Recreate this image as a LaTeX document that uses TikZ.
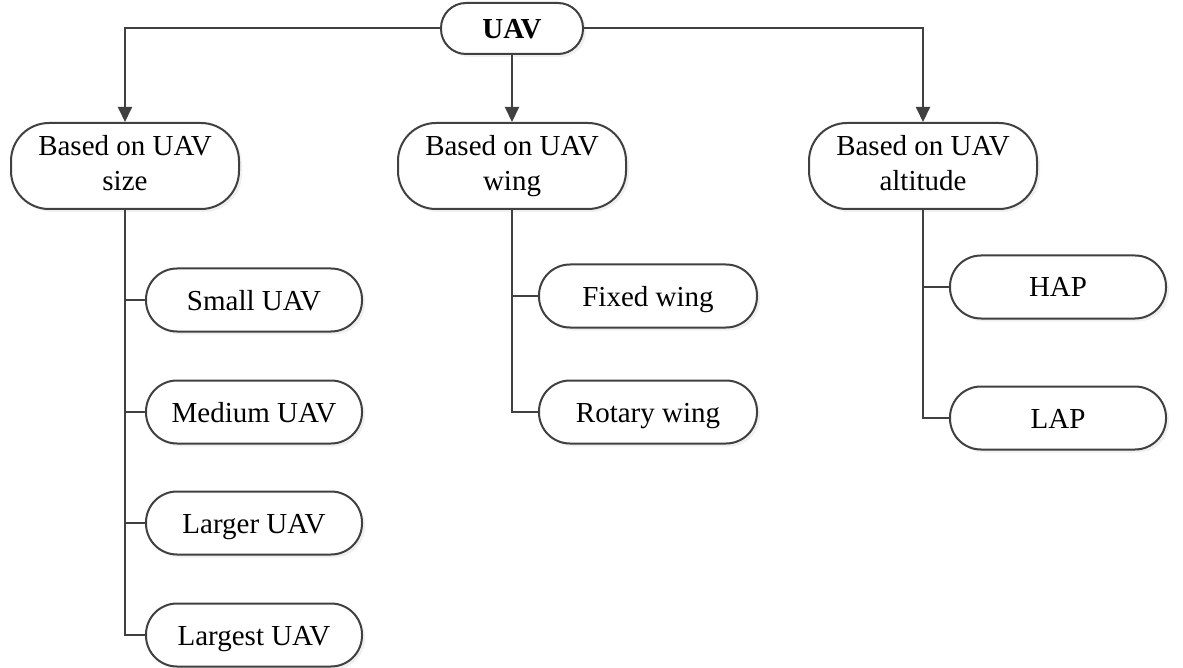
\documentclass[tikz,border=0pt]{standalone}
\usepackage{fontspec}
\setmainfont{Liberation Serif}
\usepackage{tikz}
\usetikzlibrary{arrows.meta,positioning,shadows}
\definecolor{linegray}{HTML}{404040}

\begin{document}
\begin{tikzpicture}[x=1pt,y=-1pt,
  box/.style={draw=linegray,line width=2pt,fill=white,rounded corners=31pt,align=center,
    font=\fontsize{29}{35}\selectfont,inner sep=0pt,text height=26pt,text depth=6pt,
    drop shadow={opacity=0.12,shadow xshift=3pt,shadow yshift=-3pt}},
  topbox/.style={box,minimum width=228pt,minimum height=86pt,rounded corners=38pt,
    text height=,text depth=,execute at end node={\vphantom{g}}},
  leafbox/.style={box,minimum width=216pt,minimum height=63pt},
  link/.style={draw=linegray,line width=2pt},
  arrow/.style={link,-{Triangle[width=14pt,length=15pt]}}]
\useasboundingbox (0,0) rectangle (1183,668);

\node[box,minimum width=142pt,minimum height=51pt,rounded corners=25pt,
  font=\fontsize{29}{35}\selectfont\bfseries] (uav) at (512,28.5) {UAV};

\node[topbox] (size) at (125,166) {Based on UAV\\size};
\node[topbox] (wing) at (512,166) {Based on UAV\\wing};
\node[topbox] (alt) at (923,166) {Based on UAV\\altitude};

\node[leafbox] (small) at (254,300) {Small UAV};
\node[leafbox] (medium) at (254,412) {Medium UAV};
\node[leafbox] (larger) at (254,523) {Larger UAV};
\node[leafbox] (largest) at (254,635) {Largest UAV};

\node[leafbox,minimum width=218pt] (fixed) at (648,296) {Fixed wing};
\node[leafbox,minimum width=218pt] (rotary) at (648,412) {Rotary wing};

\node[leafbox] (hap) at (1058,287) {HAP};
\node[leafbox] (lap) at (1058,418) {LAP};

\draw[arrow] (uav.west) -| (size.north);
\draw[arrow] (uav.south) -- (wing.north);
\draw[arrow] (uav.east) -| (alt.north);

\foreach \leaf in {small,medium,larger,largest}
  \draw[link] (size.south) |- (\leaf.west);
\foreach \leaf in {fixed,rotary}
  \draw[link] (wing.south) |- (\leaf.west);
\foreach \leaf in {hap,lap}
  \draw[link] (alt.south) |- (\leaf.west);
\end{tikzpicture}
\end{document}
